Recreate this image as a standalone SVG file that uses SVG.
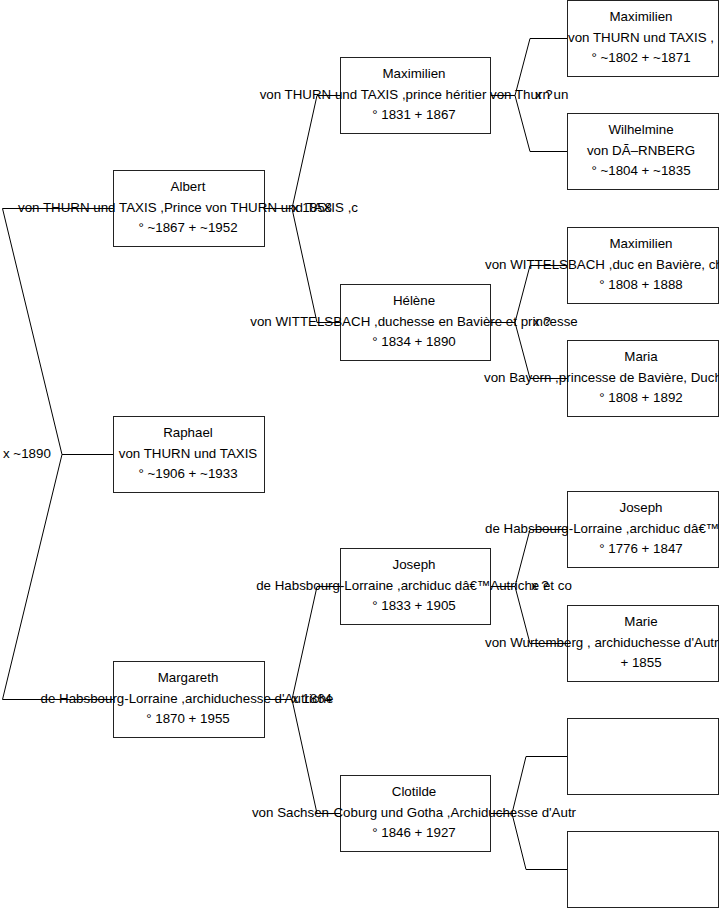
<svg xmlns="http://www.w3.org/2000/svg" width="719" height="908" viewBox="0 0 719 908">
<style>
.bg{fill:#fff}
.box{fill:#fff;stroke:#222;stroke-width:1}
.ln{fill:none;stroke:#000;stroke-width:1}
text{font-family:"Liberation Sans",Arial,sans-serif;font-size:13.33px;fill:#000}
.c{text-anchor:middle}
</style>
<rect class="bg" x="0" y="0" width="719" height="908"/>
<g id="connectors">
<polyline class="ln" points="113.5,454.5 62,454.5 2.5,208.5 113.5,208.5"/>
<polyline class="ln" points="62,454.5 2.5,699.5 113.5,699.5"/>
<polyline class="ln" points="264.5,208.5 292,208.5 317,95.5 340.5,95.5"/>
<polyline class="ln" points="292,208.5 317,322.5 340.5,322.5"/>
<polyline class="ln" points="264.5,699.5 292,699.5 317,586.5 340.5,586.5"/>
<polyline class="ln" points="292,699.5 317,813.5 340.5,813.5"/>
<polyline class="ln" points="490.5,95.5 515,95.5 530,38.5 567.5,38.5"/>
<polyline class="ln" points="515,95.5 530,151.5 567.5,151.5"/>
<polyline class="ln" points="490.5,322.5 515,322.5 530,265.5 567.5,265.5"/>
<polyline class="ln" points="515,322.5 530,378.5 567.5,378.5"/>
<polyline class="ln" points="490.5,586.5 515,586.5 530,529.5 567.5,529.5"/>
<polyline class="ln" points="515,586.5 530,643.5 567.5,643.5"/>
<polyline class="ln" points="490.5,813.5 512,813.5 526,756.5 567.5,756.5"/>
<polyline class="ln" points="512,813.5 526,869.5 567.5,869.5"/>
</g>
<g id="n-albert"><rect class="box" x="113.5" y="170.5" width="151" height="76"/>
<text class="c" x="188" y="191">Albert</text>
<text class="c" x="188" y="212">von THURN und TAXIS ,Prince von THURN und TAXIS ,c</text>
<text class="c" x="188" y="232">° ~1867 + ~1952</text></g>
<g id="n-raphael"><rect class="box" x="113.5" y="416.5" width="151" height="76"/>
<text class="c" x="188" y="437">Raphael</text>
<text class="c" x="188" y="458">von THURN und TAXIS</text>
<text class="c" x="188" y="478">° ~1906 + ~1933</text></g>
<g id="n-margareth"><rect class="box" x="113.5" y="661.5" width="151" height="76"/>
<text class="c" x="188" y="682">Margareth</text>
<text class="c" x="187" y="703">de Habsbourg-Lorraine ,archiduchesse d'Autriche</text>
<text class="c" x="188" y="723">° 1870 + 1955</text></g>
<g id="n-maximilien2"><rect class="box" x="340.5" y="57.5" width="150" height="76"/>
<text class="c" x="414" y="78">Maximilien</text>
<text class="c" x="414" y="99">von THURN und TAXIS ,prince héritier von Thurn un</text>
<text class="c" x="414" y="119">° 1831 + 1867</text></g>
<g id="n-helene"><rect class="box" x="340.5" y="284.5" width="150" height="76"/>
<text class="c" x="414" y="305">Hélène</text>
<text class="c" x="414" y="326">von WITTELSBACH ,duchesse en Bavière et princesse</text>
<text class="c" x="414" y="346">° 1834 + 1890</text></g>
<g id="n-joseph2"><rect class="box" x="340.5" y="548.5" width="150" height="76"/>
<text class="c" x="414" y="569">Joseph</text>
<text class="c" x="414" y="590">de Habsbourg-Lorraine ,archiduc dâ€™Autriche et co</text>
<text class="c" x="414" y="610">° 1833 + 1905</text></g>
<g id="n-clotilde"><rect class="box" x="340.5" y="775.5" width="150" height="76"/>
<text class="c" x="414" y="796">Clotilde</text>
<text class="c" x="414" y="817">von Sachsen-Coburg und Gotha ,Archiduchesse d'Autr</text>
<text class="c" x="414" y="837">° 1846 + 1927</text></g>
<g id="n-maximilien3a"><rect class="box" x="567.5" y="0.5" width="151" height="76"/>
<text class="c" x="641" y="21">Maximilien</text>
<text class="c" x="641" y="42">von THURN und TAXIS ,</text>
<text class="c" x="641" y="62">° ~1802 + ~1871</text></g>
<g id="n-wilhelmine"><rect class="box" x="567.5" y="113.5" width="151" height="76"/>
<text class="c" x="641" y="134">Wilhelmine</text>
<text class="c" x="641" y="155">von DÃ–RNBERG</text>
<text class="c" x="641" y="175">° ~1804 + ~1835</text></g>
<g id="n-maximilien3b"><rect class="box" x="567.5" y="227.5" width="151" height="76"/>
<text class="c" x="641" y="248">Maximilien</text>
<text x="485" y="269">von WITTELSBACH ,duc en Bavière, ch</text>
<text class="c" x="641" y="289">° 1808 + 1888</text></g>
<g id="n-maria"><rect class="box" x="567.5" y="340.5" width="151" height="76"/>
<text class="c" x="641" y="361">Maria</text>
<text x="484" y="382">von Bayern ,princesse de Bavière, Duch</text>
<text class="c" x="641" y="402">° 1808 + 1892</text></g>
<g id="n-joseph3"><rect class="box" x="567.5" y="491.5" width="151" height="76"/>
<text class="c" x="641" y="512">Joseph</text>
<text x="485" y="533">de Habsbourg-Lorraine ,archiduc dâ€™</text>
<text class="c" x="641" y="553">° 1776 + 1847</text></g>
<g id="n-marie"><rect class="box" x="567.5" y="605.5" width="151" height="76"/>
<text class="c" x="641" y="626">Marie</text>
<text x="485" y="647">von Wurtemberg , archiduchesse d'Autr</text>
<text class="c" x="641" y="667">+ 1855</text></g>
<g id="n-empty1"><rect class="box" x="567.5" y="718.5" width="151" height="76"/></g>
<g id="n-empty2"><rect class="box" x="567.5" y="831.5" width="151" height="76"/></g>
<g id="labels">
<text x="3" y="458">x ~1890</text>
<text x="292" y="212">x 1858</text>
<text x="292" y="703">x 1864</text>
<text x="535" y="99">x ?</text>
<text x="533" y="326">x ?</text>
<text x="531" y="590">x ?</text>
</g>
</svg>
